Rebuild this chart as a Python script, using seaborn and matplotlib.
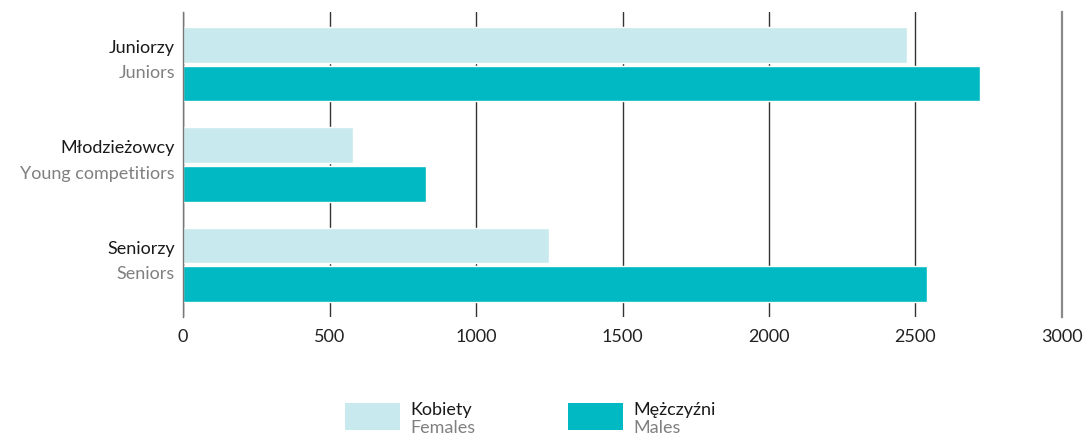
import matplotlib
matplotlib.use("Agg")
import matplotlib.pyplot as plt
import seaborn as sns
import pandas as pd
from matplotlib.patches import Rectangle

# data
categories_pl = ["Juniorzy", "Młodzieżowcy", "Seniorzy"]
categories_en = ["Juniors", "Young competitiors", "Seniors"]
females = [2470, 580, 1250]
males = [2720, 830, 2540]
series_pl = ["Kobiety", "Mężczyźni"]
series_en = ["Females", "Males"]
colors = ["#C8EAEE", "#00B9C2"]
xticks = [0, 500, 1000, 1500, 2000, 2500, 3000]

df = pd.DataFrame({
    "cat": categories_pl * 2,
    "value": females + males,
    "series": [series_pl[0]] * 3 + [series_pl[1]] * 3,
})

sns.set_style("white")
plt.rcParams["font.family"] = ["Lato", "DejaVu Sans"]

fig = plt.figure(figsize=(10.83, 4.35), dpi=100)
ax = fig.add_axes([0.169, 0.269, 0.8116, 0.701])

sns.barplot(data=df, x="value", y="cat", hue="series", orient="h",
            palette=colors, width=0.77, gap=0.07, saturation=1,
            legend=False, ax=ax)

ax.set_xlim(0, 3000)
ax.set_ylim(2.52, -0.52)
ax.set_xticks(xticks)
ax.set_xticklabels([str(t) for t in xticks], fontsize=13, color="#222222")
ax.tick_params(axis="x", length=0, pad=8)
ax.set_yticks([])
ax.set_xlabel("")
ax.set_ylabel("")

ax.set_axisbelow(True)
ax.grid(axis="x", color="#333333", linewidth=1)
ax.grid(axis="y", visible=False)
for s in ["top", "bottom"]:
    ax.spines[s].set_visible(False)
ax.spines["left"].set_color("#777777")
ax.spines["left"].set_linewidth(1)
ax.spines["right"].set_color("#8a8a8a")
ax.spines["right"].set_linewidth(1.6)

# two-line category labels (Polish / English)
for i, (pl, en) in enumerate(zip(categories_pl, categories_en)):
    ax.text(-0.009, i - 0.17, pl, transform=ax.get_yaxis_transform(),
            ha="right", va="center", fontsize=13, color="#1a1a1a")
    ax.text(-0.009, i + 0.08, en, transform=ax.get_yaxis_transform(),
            ha="right", va="center", fontsize=13, color="#808080")

# legend
leg_x = [0.3186, 0.5245]
for lx, c, pl, en in zip(leg_x, colors, series_pl, series_en):
    fig.add_artist(Rectangle((lx, 0.009), 0.0508, 0.062, transform=fig.transFigure,
                             facecolor=c, edgecolor="none"))
    fig.text(lx + 0.06, 0.058, pl, ha="left", va="center", fontsize=13, color="#1a1a1a")
    fig.text(lx + 0.06, 0.016, en, ha="left", va="center", fontsize=13, color="#808080")

fig.savefig("out.png", dpi=100)
